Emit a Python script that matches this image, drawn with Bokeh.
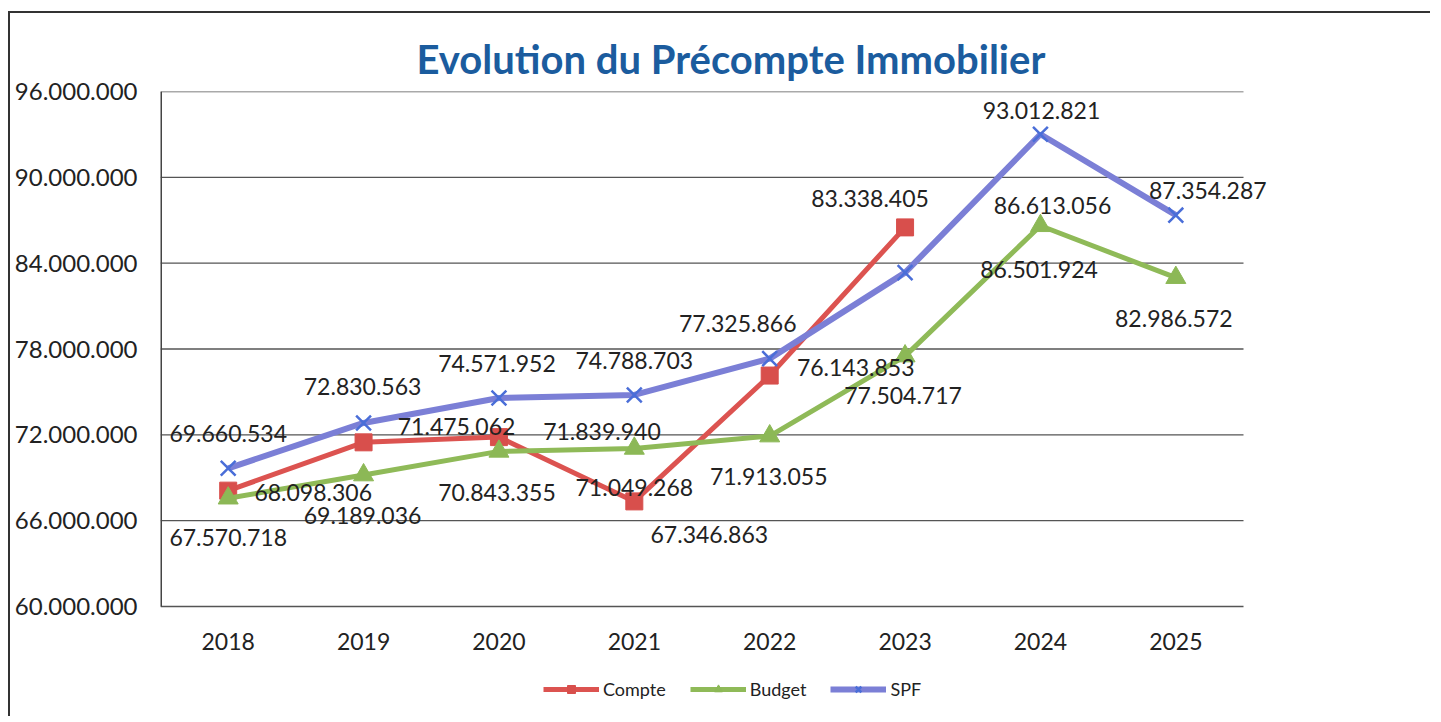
from bokeh.plotting import figure
from bokeh.models import (Range1d, FixedTicker, CustomJSTickFormatter, Legend,
                          LegendItem, ColumnDataSource, Title)
from bokeh.core.properties import value
from bokeh.embed import file_html
from bokeh.resources import INLINE

# ---------------- data ----------------
years = ["2018", "2019", "2020", "2021", "2022", "2023", "2024", "2025"]
compte = [68098306, 71475062, 71839940, 67346863, 76143853, 86501924]
budget = [67570718, 69189036, 70843355, 71049268, 71913055, 77504717, 86613056, 82986572]
spf = [69660534, 72830563, 74571952, 74788703, 77325866, 83338405, 93012821, 87354287]
y_ticks = [60000000, 66000000, 72000000, 78000000, 84000000, 90000000, 96000000]
title_text = "Evolution du Précompte Immobilier"

# data-label offsets in pixels (+y = down), as placed in the original
compte_dx = [85, 93, 103, 75, 86, 134]
compte_dy = [2, -16, -6, 33, -8, 42]
budget_dx = [0, -1, -2, 0, -1, -2, 12, -2]
budget_dy = [39, 40, 41, 39, 40, 39, -20, 41]
spf_dx = [0, -1, -2, 0, -32, -35, 1, 32]
spf_dy = [-35, -36, -35, -34, -35, -74, -24, -25]


def fmt(v):
    return f"{v:,}".replace(",", ".")


FONT = "Lato"
RED = "#DC5350"
GREEN = "#8FBA58"
BLUE = "#7B7FD6"
XBLUE = "#4A6ED8"
GRID = "#555555"

n = len(years)
idx = list(range(n))
PLOT_W = 1083          # width of the category area
PLOT_H = 515           # height of the value area
FRAME_W = 1115         # a bit wider so that the last label is not clipped
EXTRA_B = 110          # room under the value area for year labels and legend
x_end = -0.5 + n * FRAME_W / PLOT_W
y_lo, y_hi = y_ticks[0], y_ticks[-1]
y_start = y_lo - EXTRA_B * (y_hi - y_lo) / PLOT_H

p = figure(x_range=Range1d(-0.5, x_end),
           y_range=Range1d(y_start, y_hi),
           frame_width=FRAME_W, frame_height=PLOT_H + EXTRA_B,
           min_border_left=150, min_border_top=78,
           min_border_right=155, min_border_bottom=0,
           output_backend="svg", toolbar_location=None,
           background_fill_color="white", border_fill_color="white")
p.outline_line_color = None
p.styles = {"border-left": "2px solid #333", "border-top": "2px solid #333",
            "margin-left": "8px", "margin-top": "11px"}

# y axis
p.xaxis.visible = False
p.yaxis.ticker = FixedTicker(ticks=y_ticks)
p.yaxis.formatter = CustomJSTickFormatter(
    code="return Math.round(tick).toString().replace(/\\B(?=(\\d{3})+(?!\\d))/g, '.');")
ax = p.yaxis[0]
ax.major_tick_in = 0
ax.major_tick_out = 0
ax.minor_tick_in = 0
ax.minor_tick_out = 0
ax.axis_line_color = None
ax.major_label_text_font = FONT
ax.major_label_text_font_size = "24px"
ax.major_label_text_color = "#222222"
ax.major_label_standoff = 23

p.xgrid.grid_line_color = None
p.ygrid.grid_line_color = None
# horizontal gridlines spanning only the category area
p.segment(x0=-0.5, x1=n - 0.5, y0=y_ticks, y1=y_ticks,
          line_color=GRID, line_width=1.3, level="underlay")
# value axis line
p.segment(x0=[-0.5], x1=[-0.5], y0=[y_lo], y1=[y_hi],
          line_color="#444444", line_width=3, level="underlay")

# year labels under the value area
p.text(x=idx, y=[y_lo] * n, text=years, y_offset=35,
       text_align="center", text_baseline="middle",
       text_font=value(FONT), text_font_size="23px", text_color="#222222")

# series
src_c = ColumnDataSource(dict(x=idx[:len(compte)], y=compte,
                              t=[fmt(v) for v in compte], dx=compte_dx, dy=compte_dy))
src_b = ColumnDataSource(dict(x=idx, y=budget,
                              t=[fmt(v) for v in budget], dx=budget_dx, dy=budget_dy))
src_s = ColumnDataSource(dict(x=idx, y=spf,
                              t=[fmt(v) for v in spf], dx=spf_dx, dy=spf_dy))

lc = p.line("x", "y", source=src_c, line_color=RED, line_width=5)
mc = p.scatter("x", "y", source=src_c, marker="square", size=17,
               fill_color="#D84F4C", line_color="#D84F4C")
lb = p.line("x", "y", source=src_b, line_color=GREEN, line_width=5)
mb = p.scatter("x", "y", source=src_b, marker="triangle", size=20,
               fill_color="#8CB856", line_color="#8CB856")
ls = p.line("x", "y", source=src_s, line_color=BLUE, line_width=6)
ms = p.scatter("x", "y", source=src_s, marker="x", size=21,
               line_color=XBLUE, line_width=2.5)

for src in (src_c, src_b, src_s):
    p.text("x", "y", text="t", source=src, x_offset="dx", y_offset="dy",
           text_align="center", text_baseline="middle",
           text_font=value(FONT), text_font_size="23px", text_color="#222222")

# title
p.add_layout(Title(text=title_text, align="left", offset=256, standoff=17,
                   text_font=FONT, text_font_size="40px", text_font_style="bold",
                   text_color="#1B5C9E"), "above")

legend = Legend(items=[LegendItem(label="Compte", renderers=[lc, mc]),
                       LegendItem(label="Budget", renderers=[lb, mb]),
                       LegendItem(label="SPF", renderers=[ls, ms])],
                orientation="horizontal", location=(383, 16),
                glyph_width=56, glyph_height=20, label_standoff=4, spacing=24,
                padding=0, margin=0, border_line_color=None,
                background_fill_alpha=0,
                label_text_font=FONT, label_text_font_size="18px",
                label_text_color="#222222")
p.add_layout(legend)

open("out.html", "w").write(file_html(p, INLINE))
